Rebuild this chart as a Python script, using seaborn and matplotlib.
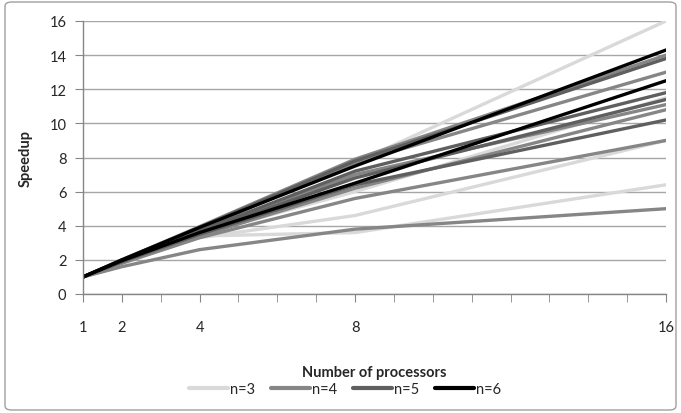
import numpy as np
import pandas as pd
import matplotlib
matplotlib.use("Agg")
import matplotlib.pyplot as plt
import seaborn as sns
from matplotlib.patches import FancyBboxPatch

# processors used
procs = [1, 2, 4, 8, 16]

# speedup curves, several problem sizes for each n
n3 = [
    [1, 1.95, 3.85, 7.7, 16.0],
    [1, 1.9, 3.5, 6.0, 11.5],
    [1, 1.85, 3.3, 4.6, 9.0],
    [1, 1.8, 3.4, 3.6, 6.4],
]
n4 = [
    [1, 2.0, 3.95, 7.9, 14.0],
    [1, 1.95, 3.8, 7.7, 13.0],
    [1, 1.9, 3.6, 7.0, 11.1],
    [1, 1.85, 3.4, 6.2, 10.8],
    [1, 1.8, 3.3, 5.6, 9.0],
    [1, 1.6, 2.6, 3.8, 5.0],
]
n5 = [
    [1, 2.0, 3.9, 7.8, 13.8],
    [1, 1.95, 3.7, 7.2, 11.8],
    [1, 1.9, 3.6, 6.8, 11.4],
    [1, 1.9, 3.5, 6.4, 10.2],
]
n6 = [
    [1, 2.0, 3.9, 7.5, 14.3],
    [1, 1.95, 3.6, 6.5, 12.5],
]

groups = {"n=3": n3, "n=4": n4, "n=5": n5, "n=6": n6}
colors = {"n=3": "#d9d9d9", "n=4": "#868686", "n=5": "#5f5f5f", "n=6": "#000000"}

rows = []
k = 0
for name, curves in groups.items():
    for c in curves:
        for p, s in zip(procs, c):
            rows.append({"procs": p, "speedup": s, "n": name, "run": k})
        k += 1
df = pd.DataFrame(rows)

sns.set_style("white")
plt.rcParams['font.family'] = ['Lato', 'DejaVu Sans']

fig = plt.figure(figsize=(6.81, 4.14), dpi=100)
ax = fig.add_axes([83 / 681, 1 - 295 / 414, (666 - 83) / 681, (295 - 22) / 414])

sns.lineplot(data=df, x="procs", y="speedup", hue="n", units="run",
             estimator=None, palette=colors, linewidth=2.4, ax=ax)

ax.set_xlim(1, 16)
ax.set_ylim(0, 16)
ax.set_yticks(range(0, 17, 2))
ax.set_xticks(procs)
ax.set_xticks(range(1, 17), minor=True)
ax.tick_params(axis="x", which="both", direction="out", length=6, color="#868686",
               pad=13, labelsize=10.5, bottom=True)
ax.tick_params(axis="y", direction="out", length=6, color="#868686", pad=6,
               labelsize=10.5, left=True)
ax.yaxis.grid(True, color="#a6a6a6", linewidth=1)
ax.set_axisbelow(True)
for side in ["top", "right"]:
    ax.spines[side].set_visible(False)
for side in ["left", "bottom"]:
    ax.spines[side].set_color("#868686")
    ax.spines[side].set_linewidth(1)

ax.set_xlabel("Number of processors", fontweight="bold", fontsize=10.5, labelpad=22)
ax.set_ylabel("Speedup", fontweight="bold", fontsize=10.5, labelpad=12)

handles, labels = ax.get_legend_handles_labels()
ax.legend(handles, labels, loc="center", bbox_to_anchor=(345 / 681, 24 / 414),
          bbox_transform=fig.transFigure, ncol=4, frameon=False, fontsize=10.5,
          handlelength=2.7, handletextpad=0.1, columnspacing=1.1)
for h in ax.get_legend().get_lines():
    h.set_linewidth(3)

border = FancyBboxPatch((5 / 681, 3 / 414), 671 / 681, 408 / 414,
                        boxstyle="round,pad=0,rounding_size=0.01",
                        transform=fig.transFigure, fill=False,
                        edgecolor="#a0a0a0", linewidth=1)
fig.patches.append(border)

fig.savefig("out.png", dpi=100)
